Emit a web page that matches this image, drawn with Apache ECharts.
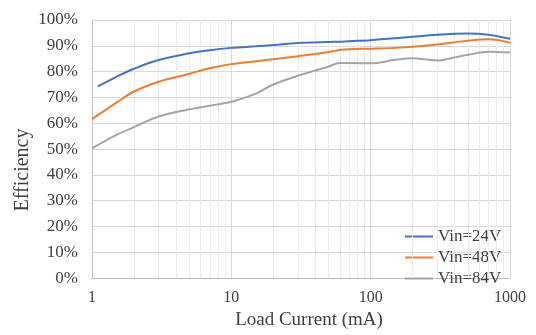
<!DOCTYPE html>
<html>
<head>
<meta charset="utf-8">
<script src="https://cdn.jsdelivr.net/npm/echarts@6/dist/echarts.min.js"></script>
<style>html,body{margin:0;padding:0;background:#fff}#c{width:536px;height:335px}</style>
</head>
<body>
<div id="c"></div>
<script>
const loadCurrent24 = [1.1, 1.5, 2, 3, 5, 7, 10, 15, 20, 30, 50, 60, 70, 100, 150, 200, 300, 400, 500, 700, 1000];
const loadCurrent = [1, 1.5, 2, 3, 5, 7, 10, 15, 20, 30, 50, 60, 70, 100, 150, 200, 300, 400, 500, 700, 1000];
const eff24 = [74.3, 78.0, 81.1, 84.5, 87.1, 88.3, 89.2, 89.8, 90.3, 91.1, 91.5, 91.6, 91.8, 92.2, 92.9, 93.5, 94.3, 94.7, 94.8, 94.3, 92.7];
const eff48 = [61.6, 68.0, 72.3, 76.1, 79.2, 81.3, 82.9, 84.0, 84.8, 86.0, 87.6, 88.4, 88.7, 88.9, 89.2, 89.6, 90.5, 91.4, 92.0, 92.5, 91.2];
const eff84 = [50.3, 55.5, 58.5, 62.6, 65.4, 66.8, 68.3, 71.5, 75.0, 78.4, 82.0, 83.3, 83.3, 83.2, 84.6, 85.2, 84.3, 85.5, 86.5, 87.7, 87.4];
const seriesNames = ['Vin=24V', 'Vin=48V', 'Vin=84V'];
const xTickLabels = ['1', '10', '100', '1000'];
const minorGridValues = [2,3,4,5,6,7,8,9,20,30,40,50,60,70,80,90,200,300,400,500,600,700,800,900];

const font = 'Liberation Serif';
const txt = '#404040';
const pair = (xs, ys) => xs.map((x, i) => [x, ys[i]]);
const chart = echarts.init(document.getElementById('c'), null, {renderer: 'canvas'});
const lineSeries = (name, xs, ys, color) => ({
  name, type: 'line', data: pair(xs, ys), symbol: 'none', smooth: 0.35,
  lineStyle: {color, width: 2}, itemStyle: {color}, z: 5
});
chart.setOption({
  animation: false,
  backgroundColor: '#fff',
  grid: {left: 92, right: 26, top: 20, bottom: 50},
  xAxis: {
    type: 'log', logBase: 10, min: 1, max: 1000,
    name: 'Load Current (mA)', nameLocation: 'middle', nameGap: 30,
    nameTextStyle: {fontFamily: font, fontSize: 19, color: txt, padding: [0, 0, 0, 16]},
    axisLine: {show: true, lineStyle: {color: '#bfbfbf'}},
    axisTick: {show: false},
    axisLabel: {fontFamily: font, fontSize: 16, color: txt, margin: 12,
      formatter: (v) => { const s = String(Math.round(v)); return xTickLabels.includes(s) ? s : ''; }},
    splitLine: {show: true, lineStyle: {color: '#d9d9d9'}}
  },
  yAxis: {
    type: 'value', min: 0, max: 100, interval: 10,
    axisLine: {show: true, lineStyle: {color: '#bfbfbf'}},
    axisTick: {show: false},
    axisLabel: {fontFamily: font, fontSize: 17, color: txt, margin: 14, formatter: (v) => v + '%'},
    splitLine: {lineStyle: {color: '#d9d9d9'}}
  },
  graphic: [{
    type: 'text', x: 23, y: 170, rotation: Math.PI / 2,
    style: {text: 'Efficiency', fontFamily: font, fontSize: 20, fill: txt, align: 'center', verticalAlign: 'middle'}
  }],
  legend: {
    data: seriesNames, orient: 'vertical', left: 399, top: 223,
    itemWidth: 28, itemHeight: 2, itemGap: 4,
    textStyle: {fontFamily: font, fontSize: 17, color: txt}
  },
  series: [
    {type: 'line', data: [], silent: true, z: 1,
     markLine: {silent: true, symbol: 'none', label: {show: false},
       lineStyle: {color: '#ebebeb', width: 1, type: 'solid'},
       data: minorGridValues.map(v => ({xAxis: v}))}},
    lineSeries(seriesNames[0], loadCurrent24, eff24, '#4472C4'),
    lineSeries(seriesNames[1], loadCurrent, eff48, '#ED7D31'),
    lineSeries(seriesNames[2], loadCurrent, eff84, '#A5A5A5')
  ]
});
</script>
</body>
</html>
